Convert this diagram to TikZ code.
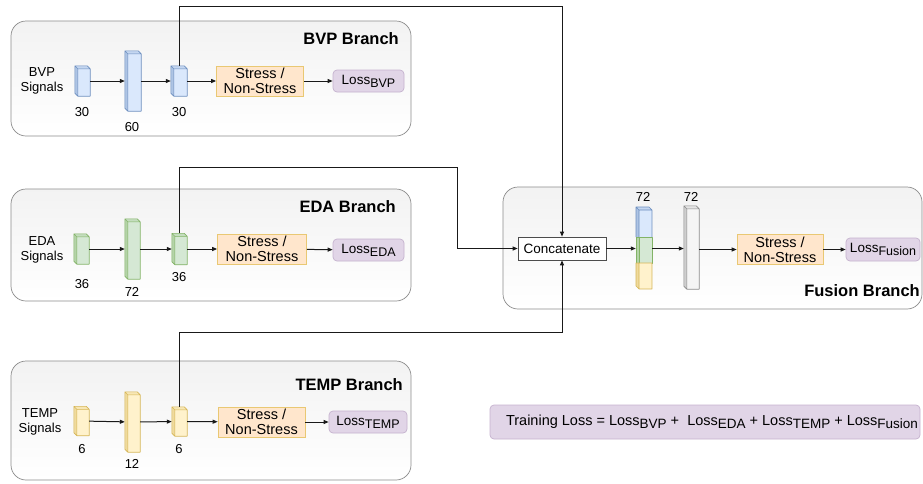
\documentclass[tikz,border=0pt]{standalone}
\usepackage{fontspec}
\setmainfont{Liberation Sans}
\usetikzlibrary{arrows.meta}

% palette
\definecolor{bvpF}{HTML}{DAE8FC}\definecolor{bvpD}{HTML}{6C8EBF}
\definecolor{edaF}{HTML}{D5E8D4}\definecolor{edaD}{HTML}{82B366}
\definecolor{tmpF}{HTML}{FFF2CC}\definecolor{tmpD}{HTML}{D6B656}
\definecolor{orF}{HTML}{FFE6CC}\definecolor{orD}{HTML}{D79B00}
\definecolor{puF}{HTML}{E1D5E7}\definecolor{puD}{HTML}{9673A6}
\definecolor{grF}{HTML}{F5F5F5}\definecolor{grD}{HTML}{666666}

% subscript as drawn in the loss labels
\newcommand\lsub[1]{\raisebox{-0.45ex}{\fontsize{12.5}{12}\selectfont #1}}
\newcommand\bigsub[1]{\raisebox{-0.45ex}{\fontsize{13.5}{13}\selectfont #1}}

% a 3D layer block: name, centre, width, height, fill, edge
\newcommand\layerbox[6]{%
  \node[inner sep=0pt, minimum width=#3, minimum height=#4] (#1) at #2 {};
  \fill[#5] ([xshift=3pt,yshift=-3pt]#1.north west) rectangle (#1.south east);
  \fill[#5!60!#6] (#1.north west) -- ([xshift=3pt,yshift=-3pt]#1.north west)
     -- ([xshift=3pt]#1.south west) -- ([yshift=3pt]#1.south west) -- cycle;
  \fill[#5!80!#6] (#1.north west) -- ([xshift=-3pt]#1.north east)
     -- ([yshift=-3pt]#1.north east) -- ([xshift=3pt,yshift=-3pt]#1.north west) -- cycle;
  \draw[#6, line width=0.6pt, line join=round]
     (#1.north west) -- ([xshift=-3pt]#1.north east) -- ([yshift=-3pt]#1.north east)
     -- (#1.south east) -- ([xshift=3pt]#1.south west) -- ([yshift=3pt]#1.south west) -- cycle
     (#1.north west) -- ([xshift=3pt,yshift=-3pt]#1.north west) -- ([yshift=-3pt]#1.north east)
     ([xshift=3pt,yshift=-3pt]#1.north west) -- ([xshift=3pt]#1.south west);
}

\tikzset{
  txt/.style={font=\fontsize{13}{15}\selectfont, inner sep=0pt},
  branch/.style={draw=black!45, line width=0.7pt, rounded corners=15pt,
    top color=black!5, bottom color=white, inner sep=0pt},
  title/.style={font=\bfseries\fontsize{16.5}{18}\selectfont, anchor=east, inner sep=0pt},
  stressbox/.style={draw=orD!55, fill=orF, line width=0.7pt, minimum height=30pt,
    align=center, font=\fontsize{14.5}{15}\selectfont, inner sep=0pt},
  lossbox/.style={draw=puD!55, fill=puF, line width=0.7pt, rounded corners=4pt,
    minimum height=22pt, font=\fontsize{13.5}{15}\selectfont, inner sep=0pt},
  link/.style={line width=1pt, draw=black!90},
  arr/.style={link, -{Triangle[length=5pt,width=4pt]}},
}

\begin{document}
\begin{tikzpicture}[x=1pt, y=-1pt]
\useasboundingbox (0,0) rectangle (923,483);

% branch frames
\node[branch, minimum width=400pt, minimum height=115pt] (bvpFrame) at (211,78.5) {};
\node[branch, minimum width=400pt, minimum height=112pt] (edaFrame) at (211,245) {};
\node[branch, minimum width=400pt, minimum height=119pt] (tmpFrame) at (211,420.5) {};
\node[branch, minimum width=419pt, minimum height=122pt] (fusFrame) at (712.5,248) {};

\node[title] (bvpTitle) at (399,39) {BVP Branch};
\node[title] (edaTitle) at (396,207) {EDA Branch};
\node[title] (tmpTitle) at (403,385) {TEMP Branch};
\node[title] (fusTitle) at (920,291) {Fusion Branch};

% ---- BVP branch
\node[txt, align=center] (bvpIn) at (42,81) {BVP\\Signals};
\layerbox{bA}{(82.5,81)}{15pt}{30pt}{bvpF}{bvpD}
\layerbox{bB}{(133,81)}{16pt}{60pt}{bvpF}{bvpD}
\layerbox{bC}{(179,81)}{16pt}{30pt}{bvpF}{bvpD}
\node[txt] (bAl) at (82,112) {30};
\node[txt] (bBl) at (132,127) {60};
\node[txt] (bCl) at (179,112) {30};
\node[stressbox, minimum width=87pt] (bS) at (260,81) {Stress /\\Non-Stress};
\node[lossbox, minimum width=71pt] (bL) at (368.5,81) {Loss\lsub{BVP}};
\draw[arr] (bA) -- (bB);
\draw[arr] (bB) -- (bC);
\draw[arr] (bC) -- (bS);
\draw[arr] (bS) -- (bL);

% ---- EDA branch
\node[txt, align=center] (edaIn) at (42,250) {EDA\\Signals};
\layerbox{eA}{(81.5,249)}{15pt}{30pt}{edaF}{edaD}
\layerbox{eB}{(132.5,249)}{15pt}{60pt}{edaF}{edaD}
\layerbox{eC}{(179.5,249)}{15pt}{31pt}{edaF}{edaD}
\node[txt] (eAl) at (82,284) {36};
\node[txt] (eBl) at (132,292) {72};
\node[txt] (eCl) at (179,277) {36};
\node[stressbox, minimum width=89pt] (eS) at (262,249) {Stress /\\Non-Stress};
\node[lossbox, minimum width=71pt] (eL) at (368.5,250) {Loss\lsub{EDA}};
\draw[arr] (eA) -- (eB);
\draw[arr] (eB) -- (eC);
\draw[arr] (eC) -- (eS);
\draw[arr] (eS) -- (eL);

% ---- TEMP branch
\node[txt, align=center] (tmpIn) at (40,422) {TEMP\\Signals};
\layerbox{tA}{(81.5,421)}{15pt}{29pt}{tmpF}{tmpD}
\layerbox{tB}{(132.5,422)}{15pt}{60pt}{tmpF}{tmpD}
\layerbox{tC}{(179.5,421.5)}{15pt}{29pt}{tmpF}{tmpD}
\node[txt] (tAl) at (82,449) {6};
\node[txt] (tBl) at (132,464) {12};
\node[txt] (tCl) at (179,449) {6};
\node[stressbox, minimum width=87pt] (tS) at (261.5,422) {Stress /\\Non-Stress};
\node[lossbox, minimum width=78pt] (tL) at (368,422) {Loss\lsub{TEMP}};
\draw[arr] (tA) -- (tB);
\draw[arr] (tB) -- (tC);
\draw[arr] (tC) -- (tS);
\draw[arr] (tS) -- (tL);

% ---- fusion branch
\node[draw=black!70, fill=white, line width=0.7pt, minimum width=88pt, minimum height=23pt,
  font=\fontsize{13.5}{15}\selectfont, inner sep=0pt] (cat) at (562,248.5) {Concatenate};

% stacked (concatenated) feature block
\node[inner sep=0pt, minimum width=16pt, minimum height=82pt] (fz) at (644,248) {};
\begin{scope}[line width=0.6pt, line join=round]
  \fill[bvpF] (639,210) rectangle (652,237);
  \fill[bvpF!60!bvpD] (636,207) -- (639,210) -- (639,237) -- (636,237) -- cycle;
  \fill[bvpF!80!bvpD] (636,207) -- (649,207) -- (652,210) -- (639,210) -- cycle;
  \draw[bvpD] (636,237) -- (636,207) -- (649,207) -- (652,210) -- (652,237)
     (636,207) -- (639,210) -- (652,210) (639,210) -- (639,237);
  \fill[edaF] (639,237) rectangle (652,263);
  \fill[edaF!60!edaD] (636,237) rectangle (639,263);
  \draw[edaD] (636,237) rectangle (652,263) (639,237) -- (639,263);
  \fill[tmpF] (639,263) rectangle (652,289);
  \fill[tmpF!60!tmpD] (636,263) -- (639,263) -- (639,289) -- (636,286) -- cycle;
  \draw[tmpD] (636,263) -- (652,263) -- (652,289) -- (639,289) -- (636,286) -- cycle
     (639,263) -- (639,289);
\end{scope}
\layerbox{fD}{(691.5,247.5)}{15pt}{83pt}{grF}{black!45}
\node[txt] (fzl) at (643,197) {72};
\node[txt] (fDl) at (691,197) {72};
\node[stressbox, minimum width=86pt] (fS) at (780,249.5) {Stress /\\Non-Stress};
\node[lossbox, minimum width=74pt, minimum height=23pt] (fL) at (883,249.5) {Loss\lsub{Fusion}};
\draw[arr] (cat) -- (cat.east -| fz.west);
\draw[arr] (fz.east |- cat.east) -- (fD.west |- cat.east);
\draw[arr] (fD.east |- fS.west) -- (fS.west);
\draw[arr] (fS) -- (fL);

% branch outputs routed into the concatenation
\coordinate (bvpTurn) at (0,6);
\coordinate (edaTurn) at (457,167);
\coordinate (tmpTurn) at (0,332);
\draw[arr] (bC.north) |- (cat.north |- bvpTurn) -- (cat.north);
\draw[arr] (eC.north) |- (edaTurn) |- (cat.west);
\draw[arr] (tC.north) |- (cat.south |- tmpTurn) -- (cat.south);

% overall objective
\node[lossbox, minimum width=430pt, minimum height=34pt, font=\fontsize{14.5}{16}\selectfont] (total) at (705,422)
  {\hspace*{14pt}Training Loss = Loss\bigsub{BVP} +\ \ Loss\bigsub{EDA} + Loss\bigsub{TEMP} + Loss\bigsub{Fusion}};
\end{tikzpicture}
\end{document}
